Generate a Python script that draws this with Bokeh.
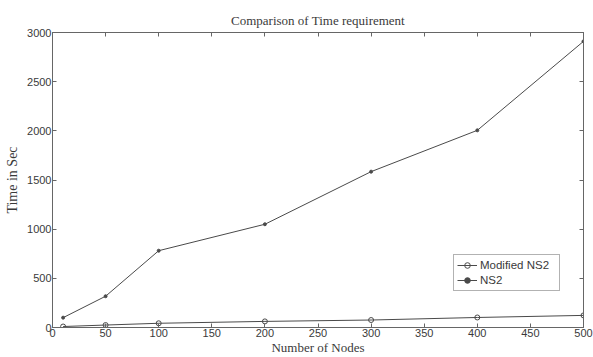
from bokeh.plotting import figure
from bokeh.models import LinearAxis, Range1d, Legend, LegendItem, FixedTicker
from bokeh.embed import file_html
from bokeh.resources import INLINE

nodes = [10, 50, 100, 200, 300, 400, 500]
modified_ns2 = [10, 25, 43, 62, 76, 102, 123]
ns2 = [100, 318, 781, 1050, 1585, 2005, 2910]
x_ticks = [0, 50, 100, 150, 200, 250, 300, 350, 400, 450, 500]
y_ticks = [0, 500, 1000, 1500, 2000, 2500, 3000]

line_col = "#4a4a4a"
text_col = "#3a3a3a"

p = figure(width=593, height=357, output_backend="svg", toolbar_location=None,
           x_range=Range1d(0, 500), y_range=Range1d(0, 3000),
           min_border_left=52, min_border_right=10, min_border_top=32, min_border_bottom=29)
p.title.text = "Comparison of Time requirement"
p.title.align = "center"
p.title.text_font = "Liberation Serif"
p.title.text_font_style = "normal"
p.title.text_font_size = "13px"
p.title.text_color = text_col
p.title.offset = 0
p.title.standoff = 10

p.xgrid.visible = False
p.ygrid.visible = False
p.outline_line_color = "#666666"
p.outline_line_width = 1
p.background_fill_color = "white"
p.border_fill_color = "white"

def style_axis(ax, labels=True):
    ax.axis_line_color = "#666666"
    ax.major_tick_in = 4
    ax.major_tick_out = 0
    ax.minor_tick_line_color = None
    ax.major_tick_line_color = "#666666"
    ax.major_label_text_font = "Liberation Sans"
    if labels:
        ax.major_label_text_font_size = "11px"
        ax.major_label_text_color = text_col
        ax.major_label_standoff = 1
    else:
        ax.major_label_text_font_size = "2px"
        ax.major_label_text_color = None
        ax.major_label_standoff = 0
    ax.axis_label_text_font = "Liberation Serif"
    ax.axis_label_text_font_style = "normal"
    ax.axis_label_text_font_size = "13px"
    ax.axis_label_text_color = text_col
    ax.axis_label_standoff = 0

p.xaxis.ticker = FixedTicker(ticks=x_ticks)
p.yaxis.ticker = FixedTicker(ticks=y_ticks)
p.xaxis.axis_label = "Number of Nodes"
p.yaxis.axis_label = "Time in Sec"
style_axis(p.xaxis[0])
style_axis(p.yaxis[0])
p.yaxis[0].axis_label_standoff = 4
p.yaxis[0].axis_label_text_font_size = "14px"

top = LinearAxis(ticker=FixedTicker(ticks=x_ticks))
right = LinearAxis(ticker=FixedTicker(ticks=y_ticks))
style_axis(top, labels=False)
style_axis(right, labels=False)
p.add_layout(top, "above")
p.add_layout(right, "right")

l1 = p.line(nodes, modified_ns2, line_color=line_col, line_width=1)
m1 = p.scatter(nodes, modified_ns2, marker="circle", size=5, fill_color=None, line_color=line_col)
l2 = p.line(nodes, ns2, line_color=line_col, line_width=1)
m2 = p.scatter(nodes, ns2, marker="circle", size=3, fill_color=line_col, line_color=line_col)

legend = Legend(items=[LegendItem(label="Modified NS2", renderers=[l1, m1]),
                       LegendItem(label="NS2", renderers=[l2, m2])],
                location=(401, 36))
legend.label_text_font = "Liberation Sans"
legend.label_text_font_size = "11.5px"
legend.label_text_color = text_col
legend.label_height = 14
legend.glyph_height = 14
legend.glyph_width = 20
legend.label_width = 76
legend.spacing = 1
legend.padding = 3
legend.margin = 0
legend.label_standoff = 3
legend.border_line_color = "#666666"
legend.background_fill_alpha = 1
p.add_layout(legend, "center")

open("out.html", "w").write(file_html(p, INLINE))
